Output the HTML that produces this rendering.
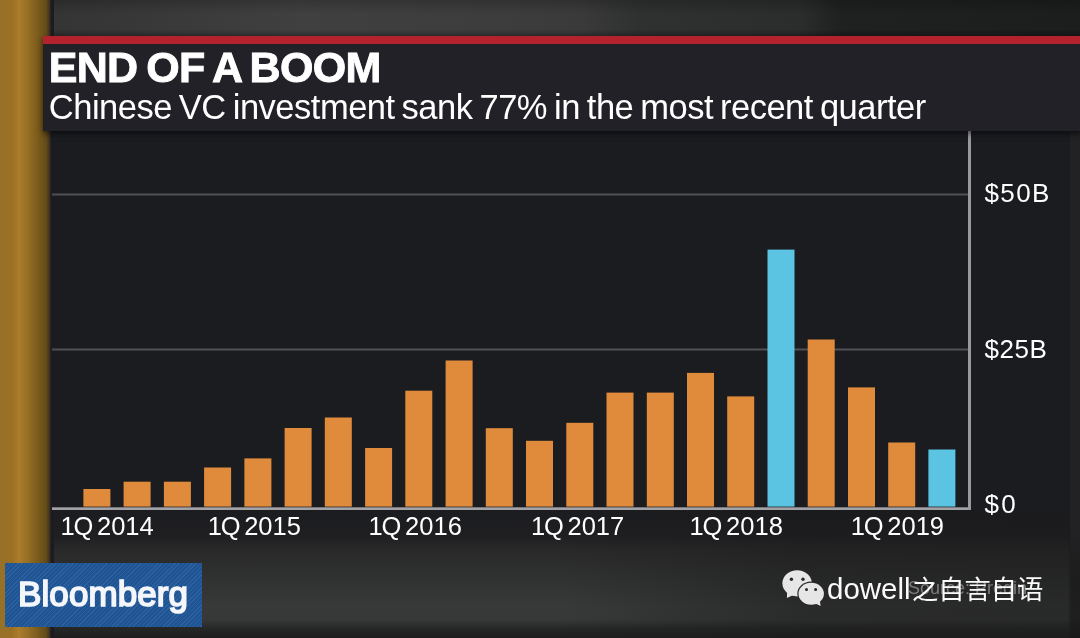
<!DOCTYPE html>
<html><head><meta charset="utf-8"><title>End of a Boom</title>
<style>
html,body{margin:0;padding:0}
body{width:1080px;height:638px;overflow:hidden;position:relative;background:#1d1d1f;font-family:"Liberation Sans","Noto Sans CJK SC",sans-serif;color:#fff}
.abs{position:absolute}
#topband{left:0;top:0;width:1080px;height:40px;background:linear-gradient(180deg,rgba(0,0,0,.18) 0,rgba(0,0,0,0) 14px,rgba(0,0,0,0) 30px,rgba(0,0,0,.25) 36px),linear-gradient(90deg,#333 0,#363636 100px,#404040 300px,#3c3c3c 520px,#3a3a3a 580px,#2f3030 640px,#2b2c2c 800px,#1f2121 840px,#1c1e1e 1080px)}
#bottomband{left:0;top:508px;width:1080px;height:130px;background:linear-gradient(180deg,#1b1c1f 0,#1f1f22 28px,#29292a 42px,#303131 70px,#383939 100px,#373838 112px,#262727 120px,#1e1e1f 130px)}
#bottomshade{left:0;top:508px;width:1080px;height:130px;background:linear-gradient(90deg,rgba(26,26,27,0) 0,rgba(26,26,27,0) 560px,rgba(26,26,27,.45) 800px,rgba(26,26,27,.5) 1068px,rgba(24,24,24,.8) 1071px,rgba(24,24,24,.8) 1080px)}
#rightstrip{left:1070px;top:131px;width:10px;height:450px;background:linear-gradient(180deg,#222224 0,#222224 400px,rgba(34,34,36,0) 450px)}
#gold{left:0;top:0;width:54px;height:638px;background:linear-gradient(90deg,#967126 0,#9b7024 12px,#ab7d2c 19px,#966e26 28px,#7d5c1c 37.5px,#644c18 46px,#46371e 49px,#1b1c22 51.3px,#1b1c20 54px)}
#panel{left:52px;top:131px;width:1018px;height:379px;background:#1b1c20}
#header{left:42.5px;top:36px;width:1038px;height:95.4px;background:#222127;box-shadow:0 3px 6px rgba(0,0,0,.55)}
#red{left:42.5px;top:36.2px;width:1038px;height:7.5px;background:#b3222d}
#title{left:48.7px;top:44px;font-size:43px;font-weight:bold;line-height:46px;letter-spacing:-.65px;word-spacing:-2.5px;white-space:nowrap;-webkit-text-stroke:.9px #fff}
#sub{left:48.8px;top:87px;font-size:34.5px;line-height:40px;letter-spacing:-.5px;word-spacing:-2.1px;white-space:nowrap}
.xl{position:absolute;top:511px;font-size:25.5px;line-height:30px;white-space:nowrap;word-spacing:-3.4px}
.xl i{font-style:normal;letter-spacing:-1.2px}
.yl{position:absolute;left:984.5px;font-size:26px;line-height:30px;white-space:nowrap;letter-spacing:.5px}
#bb{left:5px;top:563.4px;width:197.3px;height:63.2px;background:#21589b;background-image:repeating-linear-gradient(135deg,rgba(255,255,255,.05) 0,rgba(255,255,255,.05) 1px,rgba(0,0,0,.05) 1px,rgba(0,0,0,.05) 3px)}
#bbt{left:18px;top:573px;font-size:35px;font-weight:normal;line-height:42px;letter-spacing:.1px;white-space:nowrap;color:#f4f6fa;-webkit-text-stroke:1.7px #f4f6fa;paint-order:stroke fill}
#src{left:908px;top:578px;font-size:18px;line-height:20px;color:#7c7c7f;white-space:nowrap}
#wm{left:827px;top:570px;font-size:26.3px;line-height:36px;white-space:nowrap;color:#fafafa;font-family:"Noto Sans CJK SC",sans-serif}
#wm b{margin-right:1.3px;font-weight:normal;font-family:"Liberation Sans",sans-serif;font-size:29.5px}
</style></head><body>
<div class="abs" id="topband"></div>
<div class="abs" id="bottomband"></div>
<div class="abs" id="bottomshade"></div>
<div class="abs" id="rightstrip"></div>
<div class="abs" id="panel"></div>
<div class="abs" id="gold"></div>
<svg class="abs" style="left:0;top:0" width="1080" height="638" viewBox="0 0 1080 638">
<rect x="52" y="193.5" width="917" height="2" fill="#505054"/>
<rect x="52" y="348.5" width="917" height="2" fill="#505054"/>
<rect x="83.4" y="489.0" width="27" height="17.6" fill="#e08b3c"/>
<rect x="123.6" y="481.7" width="27" height="24.9" fill="#e08b3c"/>
<rect x="163.9" y="481.7" width="27" height="24.9" fill="#e08b3c"/>
<rect x="204.1" y="467.5" width="27" height="39.1" fill="#e08b3c"/>
<rect x="244.4" y="458.4" width="27" height="48.2" fill="#e08b3c"/>
<rect x="284.6" y="428.0" width="27" height="78.6" fill="#e08b3c"/>
<rect x="324.8" y="417.5" width="27" height="89.1" fill="#e08b3c"/>
<rect x="365.1" y="448.0" width="27" height="58.6" fill="#e08b3c"/>
<rect x="405.3" y="390.7" width="27" height="115.9" fill="#e08b3c"/>
<rect x="445.6" y="360.5" width="27" height="146.1" fill="#e08b3c"/>
<rect x="485.8" y="428.2" width="27" height="78.4" fill="#e08b3c"/>
<rect x="526.0" y="440.8" width="27" height="65.8" fill="#e08b3c"/>
<rect x="566.3" y="422.8" width="27" height="83.8" fill="#e08b3c"/>
<rect x="606.5" y="392.6" width="27" height="114.0" fill="#e08b3c"/>
<rect x="646.8" y="392.6" width="27" height="114.0" fill="#e08b3c"/>
<rect x="687.0" y="372.9" width="27" height="133.7" fill="#e08b3c"/>
<rect x="727.2" y="396.4" width="27" height="110.2" fill="#e08b3c"/>
<rect x="767.5" y="249.6" width="27" height="257.0" fill="#5ac4e2"/>
<rect x="807.7" y="339.5" width="27" height="167.1" fill="#e08b3c"/>
<rect x="848.0" y="387.4" width="27" height="119.2" fill="#e08b3c"/>
<rect x="888.2" y="442.5" width="27" height="64.1" fill="#e08b3c"/>
<rect x="928.4" y="449.5" width="27" height="57.1" fill="#5ac4e2"/>
<rect x="52" y="507.3" width="919" height="2.7" fill="#a2a2a6"/>
<rect x="968" y="131" width="3" height="379" fill="#9a9a9e"/>
</svg>
<div class="abs" id="header"></div>
<div class="abs" id="red"></div>
<div class="abs" id="title">END OF A BOOM</div>
<div class="abs" id="sub">Chinese VC investment sank 77% in the most recent quarter</div>
<div class="xl" style="left:60.5px"><i>1</i>Q 2014</div>
<div class="xl" style="left:207.7px"><i>1</i>Q 2015</div>
<div class="xl" style="left:368.6px"><i>1</i>Q 2016</div>
<div class="xl" style="left:531px"><i>1</i>Q 2017</div>
<div class="xl" style="left:689.6px"><i>1</i>Q 2018</div>
<div class="xl" style="left:850.8px"><i>1</i>Q 2019</div>
<div class="yl" style="top:178px;letter-spacing:1.4px">$50B</div>
<div class="yl" style="top:334px">$25B</div>
<div class="yl" style="top:489.3px;letter-spacing:2.4px">$0</div>
<div class="abs" id="bb"></div>
<div class="abs" id="bbt">Bloomberg</div>
<div class="abs" id="src">Source: Preqin</div>
<svg class="abs" style="left:775px;top:562px" width="60" height="50" viewBox="0 0 60 50">
<ellipse cx="22.1" cy="21.3" rx="14.7" ry="13.1" fill="#e6e6e6"/>
<path d="M12.200 29.500L11.900 36.100L17.800 33.200z" fill="#e6e6e6"/>
<ellipse cx="36.2" cy="31.700" rx="13.900" ry="12.200" fill="#2a2a2b"/>
<ellipse cx="36.2" cy="31.700" rx="12.700" ry="11" fill="#e6e6e6"/>
<path d="M40.500 41.500L45.600 44L44.800 38.500z" fill="#e6e6e6"/>
<circle cx="16.400" cy="17.200" r="1.700" fill="#2a2a2b"/><circle cx="28" cy="17.200" r="1.700" fill="#2a2a2b"/>
<circle cx="31.500" cy="27.400" r="1.500" fill="#2a2a2b"/><circle cx="40.600" cy="27.400" r="1.500" fill="#2a2a2b"/>
</svg>
<div class="abs" id="wm"><b>dowell</b>之自言自语</div>
</body></html>
